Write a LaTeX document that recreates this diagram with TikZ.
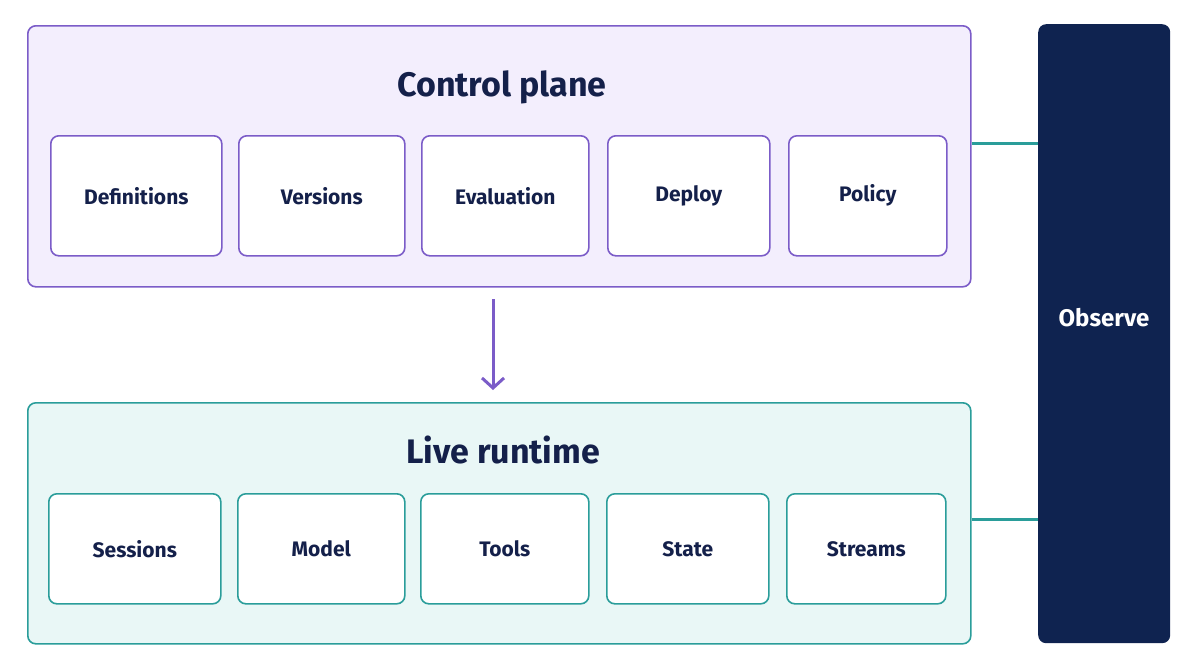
\documentclass[tikz,border=0pt]{standalone}
\usepackage{fontspec}
\setmainfont{Fira Sans}
\usetikzlibrary{arrows.meta}
\definecolor{navy}{HTML}{14204A}
\definecolor{obs}{HTML}{0F2350}
\definecolor{pur}{HTML}{7B5CC8}
\definecolor{purf}{HTML}{F3EEFD}
\definecolor{tea}{HTML}{2A9D9A}
\definecolor{teaf}{HTML}{E9F7F6}
\begin{document}
\begin{tikzpicture}[x=1pt,y=-1pt,
  panel/.style={draw=#1,line width=1.6pt,rounded corners=8pt},
  item/.style={draw=#1,fill=white,line width=1.6pt,rounded corners=8pt,inner sep=0pt,font=\bfseries\fontsize{21}{24}\selectfont,text=navy},
  ttl/.style={font=\bfseries\fontsize{34}{38}\selectfont,text=navy}]
\useasboundingbox (0,0) rectangle (1200,672);
\node[panel=pur,fill=purf,minimum width=943pt,minimum height=261pt,anchor=north west] (cp) at (27,25) {};
\node[ttl] (cpt) at (502,87) {Control plane};
\foreach \n/\a/\b/\t in {d/50/221/Definitions,v/238/404/Versions,e/421/588/Evaluation,p/607/769/Deploy,o/788/946/Policy}
  \node[item=pur,minimum width={\b-\a},minimum height=120pt,anchor=north west] (\n) at (\a,135) {\t};
\node[panel=tea,fill=teaf,minimum width=943pt,minimum height=241pt,anchor=north west] (lr) at (27,402) {};
\node[ttl] (lrt) at (503,450) {Live runtime};
\foreach \n/\a/\b/\t in {s/48/220/Sessions,m/237/404/Model,t/420/588/Tools,st/606/768/State,sr/786/945/Streams}
  \node[item=tea,minimum width={\b-\a},minimum height=110pt,anchor=north west] (\n) at (\a,493) {\t};
\node[fill=obs,rounded corners=8pt,minimum width=132pt,minimum height=619pt,anchor=north west] (ob) at (1038,24) {};
\node[text=white,font=\bfseries\fontsize{24}{28}\selectfont] (obt) at (1104,318) {Observe};
\coordinate (a1) at (493,299);
\coordinate (a2) at (493,390);
\draw[pur,line width=3pt,-{Straight Barb[length=10pt,width=22pt,line width=3pt]}] (a1) -- (a2);
\draw[tea,line width=3pt] (cp.east |- 0,143) -- (ob.west |- 0,143);
\draw[tea,line width=3pt] (lr.east |- 0,519) -- (ob.west |- 0,519);
\end{tikzpicture}
\end{document}
